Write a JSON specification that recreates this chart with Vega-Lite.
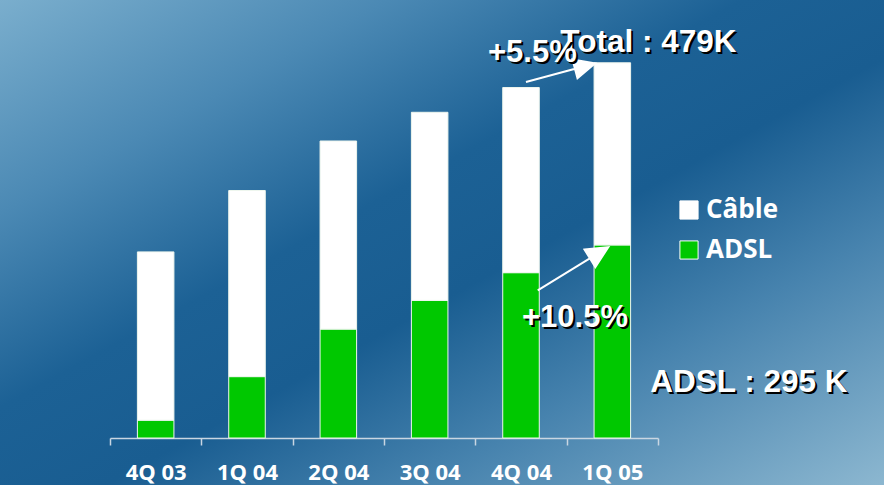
{
  "$schema": "https://vega.github.io/schema/vega-lite/v6.json",
  "width": 884,
  "height": 485,
  "autosize": {"type": "none"},
  "padding": 0,
  "background": "#1d6094",
  "config": {
    "view": {
      "stroke": null,
      "fill": {
        "gradient": "linear",
        "x1": 0, "y1": 0, "x2": 1, "y2": 1,
        "stops": [
          {"offset": 0, "color": "#7aaecd"},
          {"offset": 0.22, "color": "#4b89b4"},
          {"offset": 0.42, "color": "#1c6195"},
          {"offset": 0.56, "color": "#195d91"},
          {"offset": 0.74, "color": "#4783ae"},
          {"offset": 1, "color": "#8cb7d0"}
        ]
      }
    }
  },
  "datasets": {
    "bars": [
      {"q": "4Q 03", "type": "ADSL", "v": 118},
      {"q": "4Q 03", "type": "Câble", "v": 170},
      {"q": "1Q 04", "type": "ADSL", "v": 162},
      {"q": "1Q 04", "type": "Câble", "v": 188},
      {"q": "2Q 04", "type": "ADSL", "v": 210},
      {"q": "2Q 04", "type": "Câble", "v": 190},
      {"q": "3Q 04", "type": "ADSL", "v": 239},
      {"q": "3Q 04", "type": "Câble", "v": 190},
      {"q": "4Q 04", "type": "ADSL", "v": 267},
      {"q": "4Q 04", "type": "Câble", "v": 187},
      {"q": "1Q 05", "type": "ADSL", "v": 295},
      {"q": "1Q 05", "type": "Câble", "v": 184}
    ],
    "notes": [
      {"label": "Total : 479K", "q": "1Q 05", "v": 479},
      {"label": "+5.5%", "q": "4Q 04", "v": 454},
      {"label": "+10.5%", "q": "4Q 04", "v": 267},
      {"label": "ADSL : 295 K", "q": "1Q 05", "v": 295}
    ],
    "arrows": [
      {"arrow": "total", "q": "4Q 04", "v": 469},
      {"arrow": "adsl", "q": "4Q 04", "v": 271}
    ]
  },
  "encoding": {
    "x": {
      "field": "q",
      "type": "nominal",
      "scale": {
        "domain": ["4Q 03", "1Q 04", "2Q 04", "3Q 04", "4Q 04", "1Q 05"],
        "range": [110, 658],
        "paddingInner": 0,
        "paddingOuter": 0
      },
      "axis": {
        "title": null,
        "orient": "bottom",
        "offset": -47,
        "grid": false,
        "domainColor": "#c9d6e2",
        "domainWidth": 1.5,
        "tickColor": "#c9d6e2",
        "tickWidth": 1.5,
        "tickSize": 7,
        "tickBand": "extent",
        "labelAngle": 0,
        "labelColor": "white",
        "labelFont": "Open Sans",
        "labelFontWeight": "bold",
        "labelFontSize": 22,
        "labelBaseline": "alphabetic",
        "labelPadding": 34
      }
    },
    "y": {
      "field": "v",
      "type": "quantitative",
      "scale": {"domain": [100, 500], "range": [438, 42], "zero": false, "nice": false, "clamp": true},
      "axis": null
    }
  },
  "layer": [
    {
      "data": {"name": "bars"},
      "mark": {"type": "bar", "width": {"band": 0.4}, "stroke": "#eef6ee", "strokeWidth": 1},
      "encoding": {
        "y": {"field": "v", "type": "quantitative", "stack": "zero"},
        "color": {
          "field": "type",
          "type": "nominal",
          "scale": {"domain": ["Câble", "ADSL"], "range": ["#ffffff", "#00c800"]},
          "legend": {
            "orient": "none",
            "legendX": 676,
            "legendY": 197,
            "title": null,
            "padding": 0,
            "symbolType": "square",
            "symbolSize": 330,
            "symbolStrokeColor": "white",
            "symbolStrokeWidth": 1,
            "labelFont": "Open Sans",
            "labelFontWeight": "bold",
            "labelFontSize": 26,
            "labelColor": "white",
            "labelOffset": 4,
            "rowPadding": 14
          }
        },
        "order": {"field": "type", "sort": "ascending"}
      }
    },
    {
      "data": {"name": "arrows"},
      "transform": [{"filter": "datum.arrow === 'total'"}],
      "mark": {
        "type": "point",
        "shape": "M-1,0L0.45,0M0.42,-0.27L1,0L0.42,0.27Z",
        "filled": true,
        "fill": "white",
        "stroke": "white",
        "strokeWidth": 2,
        "opacity": 1,
        "size": 5110,
        "angle": -15,
        "xOffset": 39.5
      },
      "encoding": {}
    },
    {
      "data": {"name": "arrows"},
      "transform": [{"filter": "datum.arrow === 'adsl'"}],
      "mark": {
        "type": "point",
        "shape": "M-1,0L0.5,0M0.48,-0.25L1,0L0.48,0.25Z",
        "filled": true,
        "fill": "white",
        "stroke": "white",
        "strokeWidth": 2,
        "opacity": 1,
        "size": 6850,
        "angle": -31.5,
        "xOffset": 52
      },
      "encoding": {}
    },
    {
      "data": {"name": "notes"},
      "transform": [{"filter": "datum.label === 'Total : 479K'"}],
      "mark": {"type": "text", "font": "Liberation Sans", "fontWeight": "bold", "fontSize": 31.5, "align": "left", "baseline": "alphabetic", "fill": "black", "dx": -50, "dy": -9},
      "encoding": {"text": {"field": "label"}}
    },
    {
      "data": {"name": "notes"},
      "transform": [{"filter": "datum.label === 'Total : 479K'"}],
      "mark": {"type": "text", "font": "Liberation Sans", "fontWeight": "bold", "fontSize": 31.5, "align": "left", "baseline": "alphabetic", "fill": "white", "dx": -52, "dy": -11},
      "encoding": {"text": {"field": "label"}}
    },
    {
      "data": {"name": "notes"},
      "transform": [{"filter": "datum.label === '+5.5%'"}],
      "mark": {"type": "text", "font": "Liberation Sans", "fontWeight": "bold", "fontSize": 31, "align": "left", "baseline": "alphabetic", "fill": "black", "dx": -31, "dy": -23.5},
      "encoding": {"text": {"field": "label"}}
    },
    {
      "data": {"name": "notes"},
      "transform": [{"filter": "datum.label === '+5.5%'"}],
      "mark": {"type": "text", "font": "Liberation Sans", "fontWeight": "bold", "fontSize": 31, "align": "left", "baseline": "alphabetic", "fill": "white", "dx": -33, "dy": -25.5},
      "encoding": {"text": {"field": "label"}}
    },
    {
      "data": {"name": "notes"},
      "transform": [{"filter": "datum.label === '+10.5%'"}],
      "mark": {"type": "text", "font": "Liberation Sans", "fontWeight": "bold", "fontSize": 31, "align": "left", "baseline": "alphabetic", "fill": "black", "dx": 3, "dy": 56},
      "encoding": {"text": {"field": "label"}}
    },
    {
      "data": {"name": "notes"},
      "transform": [{"filter": "datum.label === '+10.5%'"}],
      "mark": {"type": "text", "font": "Liberation Sans", "fontWeight": "bold", "fontSize": 31, "align": "left", "baseline": "alphabetic", "fill": "white", "dx": 1, "dy": 54},
      "encoding": {"text": {"field": "label"}}
    },
    {
      "data": {"name": "notes"},
      "transform": [{"filter": "datum.label === 'ADSL : 295 K'"}],
      "mark": {"type": "text", "font": "Liberation Sans", "fontWeight": "bold", "fontSize": 31.5, "align": "left", "baseline": "alphabetic", "fill": "black", "dx": 40, "dy": 149},
      "encoding": {"text": {"field": "label"}}
    },
    {
      "data": {"name": "notes"},
      "transform": [{"filter": "datum.label === 'ADSL : 295 K'"}],
      "mark": {"type": "text", "font": "Liberation Sans", "fontWeight": "bold", "fontSize": 31.5, "align": "left", "baseline": "alphabetic", "fill": "white", "dx": 38, "dy": 147},
      "encoding": {"text": {"field": "label"}}
    }
  ]
}
